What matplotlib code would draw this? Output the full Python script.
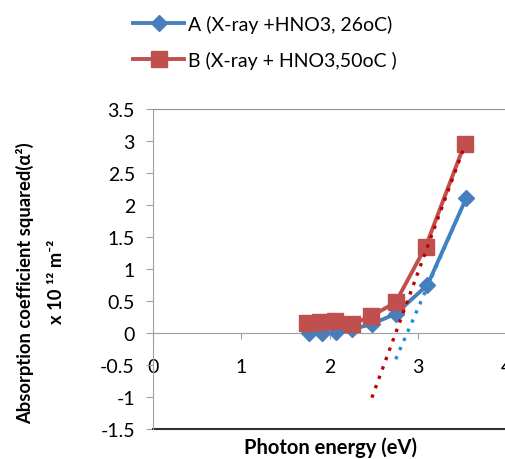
import matplotlib
matplotlib.use('Agg')
import matplotlib.pyplot as plt

# Data
energy_a = [1.77, 1.91, 2.07, 2.26, 2.48, 2.75, 3.11, 3.55]
alpha_a = [0.0, 0.0, 0.01, 0.06, 0.14, 0.30, 0.75, 2.11]
energy_b = [1.75, 1.89, 2.06, 2.26, 2.47, 2.75, 3.09, 3.53]
alpha_b = [0.16, 0.17, 0.19, 0.14, 0.26, 0.48, 1.35, 2.95]

# Linear extrapolation lines (end points)
fit_a_x = [2.75, 3.55]
fit_a_y = [-0.41, 2.11]
fit_b_x = [2.48, 3.53]
fit_b_y = [-1.01, 2.92]

x_ticks = [0, 1, 2, 3, 4]
y_ticks = [-1.5, -1, -0.5, 0, 0.5, 1, 1.5, 2, 2.5, 3, 3.5]

plt.rcParams['font.family'] = ['Lato', 'DejaVu Sans']

fig = plt.figure(figsize=(5.06, 4.60), dpi=100)
ax = fig.add_axes([153/506, 30/460, 353/506, 320/460])

blue = '#4a7ebb'
red = '#c0504d'

ax.plot(energy_a, alpha_a, color=blue, linewidth=2.8, marker='D',
        markersize=8.5, label='A (X-ray +HNO3, 26oC)', zorder=3)
ax.plot(energy_b, alpha_b, color=red, linewidth=2.8, marker='s',
        markersize=11, label='B (X-ray + HNO3,50oC )', zorder=4)
ax.plot(fit_a_x, fit_a_y, color='#1f8fdc', linewidth=2.4,
        linestyle=(0, (1, 2.0)), zorder=5)
ax.plot(fit_b_x, fit_b_y, color='#c00000', linewidth=2.4,
        linestyle=(0, (1, 2.0)), zorder=5)

ax.set_xlim(0, 4)
ax.set_ylim(-1.5, 3.5)
ax.set_xticks(x_ticks)
ax.set_yticks(y_ticks)
ax.set_yticklabels([('%g' % v) for v in y_ticks])

# Axis styling like the spreadsheet chart
ax.spines['bottom'].set_position(('data', 0))
ax.spines['bottom'].set_color('#a0a0a0')
ax.spines['left'].set_color('#a0a0a0')
ax.spines['top'].set_color('#909090')
ax.spines['right'].set_visible(False)
ax.axhline(-1.5, color='#303030', linewidth=1.5, clip_on=False)
ax.tick_params(axis='y', direction='out', length=5, color='#a0a0a0',
               labelsize=14, pad=8)
ax.tick_params(axis='x', direction='out', length=4, color='#a0a0a0',
               labelsize=14, pad=14)

fig.text(331/506, 1 - 448/460, 'Photon energy (eV)', ha='center',
         va='center', fontsize=14.5, fontweight='bold')
fig.text(25/506, 1 - 283/460, 'Absorption coefficient squared(α²)',
         rotation=90, ha='center', va='center', fontsize=13.2,
         fontweight='bold')
fig.text(57/506, 1 - 282/460, 'x 10 ¹² m⁻²', rotation=90, ha='center',
         va='center', fontsize=13.2, fontweight='bold')

fig.legend(loc='upper left', bbox_to_anchor=(116/506, 1 + 2/460),
           frameon=False, fontsize=14, handlelength=2.6,
           handletextpad=0.2, labelspacing=0.95)

fig.savefig('out.png', dpi=100)
